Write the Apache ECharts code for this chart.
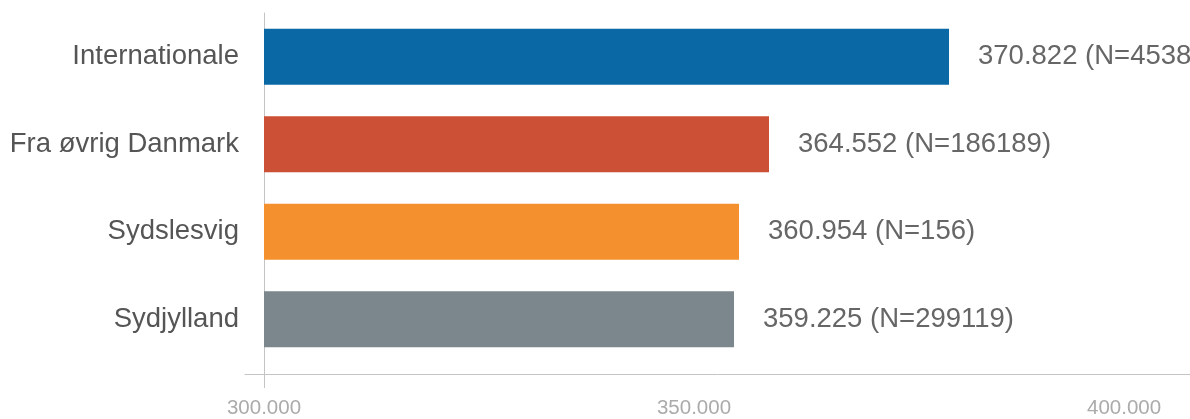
<!DOCTYPE html>
<html>
<head>
<meta charset="utf-8">
<script src="https://cdn.jsdelivr.net/npm/echarts@6/dist/echarts.min.js"></script>
<style>
html,body{margin:0;padding:0;background:#fff;}
#main{width:1190px;height:419px;}
</style>
</head>
<body>
<div id="main"></div>
<script>
// Categories (top to bottom)
var categories = ["Internationale", "Fra øvrig Danmark", "Sydslesvig", "Sydjylland"];
// Bar lengths
var barValues = [379650, 358720, 355230, 354650];
// Values printed in the labels
var shownValues = ["370.822", "364.552", "360.954", "359.225"];
// Counts printed in the labels
var counts = [4538, 186189, 156, 299119];
// Bar colours
var barColors = ["#0a68a4", "#cb5035", "#f5902f", "#7c878d"];
// X axis tick values
var tickValues = [300000, 350000, 400000];

var axisMin = 300000, axisMax = 407670;
var fontFam = "'Liberation Sans', Arial, sans-serif";

function fmtDk(v) {
  var s = Math.round(v).toString();
  return s.replace(/\B(?=(\d{3})+(?!\d))/g, ".");
}

var chart = echarts.init(document.getElementById('main'), null, {renderer: 'canvas'});
chart.setOption({
  animation: false,
  backgroundColor: '#ffffff',
  textStyle: {fontFamily: fontFam},
  grid: [
    {left: 264, right: 0, top: 13, height: 352, containLabel: false},
    {left: 245, right: 0, top: 13, height: 352, containLabel: false}
  ],
  xAxis: [
    {
      gridIndex: 0, type: 'value', min: axisMin, max: axisMax,
      axisLine: {show: false},
      splitLine: {show: false},
      axisTick: {show: true, customValues: [tickValues[0]], length: 25, lineStyle: {color: '#c4c4c4', width: 1}},
      axisLabel: {
        show: true, customValues: tickValues, margin: 35,
        fontSize: 20.5, color: '#ababab', fontFamily: fontFam,
        formatter: function (v) { return fmtDk(v); }
      }
    },
    {
      gridIndex: 1, type: 'value', min: 0, max: 1, offset: 9,
      axisLine: {show: true, lineStyle: {color: '#c4c4c4', width: 1}},
      axisTick: {show: false}, axisLabel: {show: false}, splitLine: {show: false}
    }
  ],
  yAxis: [
    {
      gridIndex: 0, type: 'category', data: categories, inverse: true,
      axisLine: {show: true, lineStyle: {color: '#c4c4c4', width: 1}},
      axisTick: {show: false},
      axisLabel: {margin: 25, fontSize: 27.5, color: '#555555', fontFamily: fontFam}
    },
    {gridIndex: 1, type: 'category', show: false, data: categories}
  ],
  series: [{
    type: 'bar',
    xAxisIndex: 0, yAxisIndex: 0,
    barWidth: 56,
    data: barValues.map(function (v, i) {
      return {value: v, itemStyle: {color: barColors[i]}};
    }),
    label: {
      show: true, position: 'right', distance: 29,
      fontSize: 27.5, color: '#666666', fontFamily: fontFam,
      formatter: function (p) {
        return shownValues[p.dataIndex] + ' (N=' + counts[p.dataIndex] + ')';
      }
    }
  }]
});
</script>
</body>
</html>
